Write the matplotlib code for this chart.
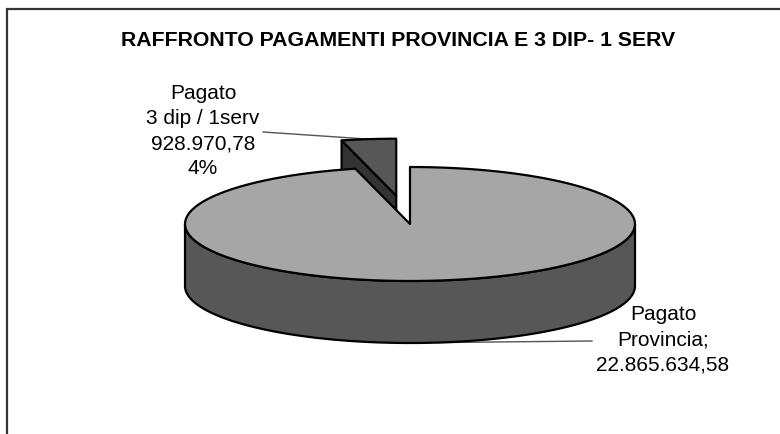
import numpy as np
import matplotlib
matplotlib.use('Agg')
import matplotlib.pyplot as plt
from matplotlib.patches import Polygon

# data
names = ['Pagato\nProvincia', 'Pagato\n3 dip / 1serv']
values = [22865634.58, 928970.78]
title = 'RAFFRONTO PAGAMENTI PROVINCIA E 3 DIP- 1 SERV'

plt.rcParams['font.family'] = ['Liberation Sans', 'DejaVu Sans']


def it_num(v):
    # italian number format 1.234.567,89
    s = f'{v:,.2f}'
    return s.replace(',', '#').replace('.', ',').replace('#', '.')


total = sum(values)
fracs = [v / total for v in values]

# pie geometry in pixel space
cx, cy = 410, 224
a, b = 225, 57
depth = 62
explode = 0.5
start = 90.0

fig = plt.figure(figsize=(7.8, 4.34), dpi=100)
ax = fig.add_axes([0, 0, 1, 1])
ax.set_xlim(0, 780)
ax.set_ylim(434, 0)
ax.axis('off')


def pt(t, dz=0.0, off=(0.0, 0.0)):
    r = np.radians(t)
    return (cx + a * np.cos(r) + off[0], cy - b * np.sin(r) + dz + off[1])


def arc(t0, t1, dz=0.0, off=(0.0, 0.0), n=120):
    ts = np.linspace(t0, t1, n)
    return [pt(t, dz, off) for t in ts]


# slice angles: small slice goes ccw from 12 o'clock, big one takes the rest
small_t0 = start
small_t1 = start + fracs[1] * 360
big_t0 = small_t1
big_t1 = start + 360

edge = dict(edgecolor='black', linewidth=1.6, joinstyle='round')

# exploded small slice (behind)
mid = (small_t0 + small_t1) / 2
off = (explode * a * np.cos(np.radians(mid)), -explode * b * np.sin(np.radians(mid)))
apex = (cx + off[0], cy + off[1])
p1 = pt(small_t1, 0, off)
cut = [apex, p1, (p1[0], p1[1] + depth), (apex[0], apex[1] + depth)]
ax.add_patch(Polygon(cut, closed=True, facecolor='#333333', **edge))
top_small = [apex] + arc(small_t0, small_t1, 0, off)
ax.add_patch(Polygon(top_small, closed=True, facecolor='#575757', **edge))

# big slice: front side wall then top
side = arc(180, 360) + arc(360, 180, depth)
ax.add_patch(Polygon(side, closed=True, facecolor='#575757', **edge))
top_big = [(cx, cy)] + arc(big_t0, big_t1)
ax.add_patch(Polygon(top_big, closed=True, facecolor='#A6A6A6', **edge))

# labels
pct = round(fracs[1] * 100)
lab_small = f'{names[1]}\n{it_num(values[1])}\n{pct}%'
lab_big = f'{names[0]};\n{it_num(values[0])}'

lx, ly = 203, 131
ax.text(lx, ly, lab_small, ha='center', va='center', fontsize=15,
        linespacing=1.42, color='black')
tip = pt(mid, 0, off)
ax.plot([lx + 60, tip[0]], [ly + 1, tip[1]], color='#555555', lw=1.0, zorder=0)

rx, ry = 663, 340
ax.text(rx, ry, lab_big, ha='center', va='center', fontsize=15,
        linespacing=1.42, color='black')
bmid = pt((big_t0 + big_t1) / 2, depth)
ax.plot([rx - 71, bmid[0]], [ry + 1, bmid[1]], color='#555555', lw=1.0, zorder=0)

# title
ax.text(398, 40, title, ha='center', va='center', fontsize=15.3,
        fontweight='bold', color='black')

# chart frame (runs off the right and bottom)
ax.plot([7, 7, 780], [434, 9, 9], color='#333333', lw=1.6, solid_joinstyle='miter')

fig.savefig('out.png', dpi=100)
